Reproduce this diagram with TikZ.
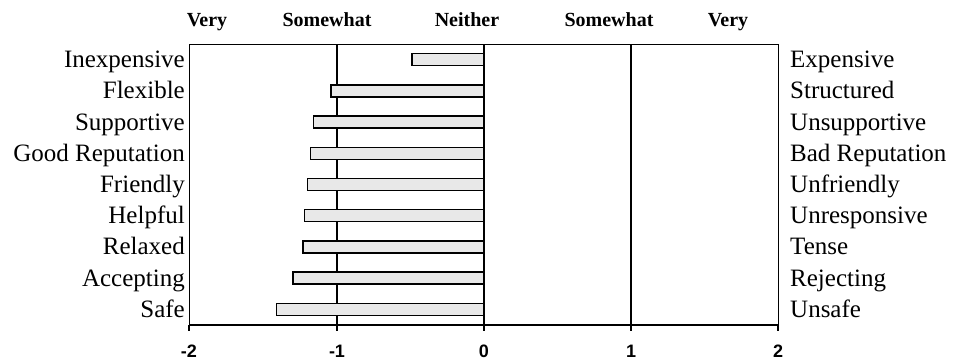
\documentclass[tikz,border=0pt]{standalone}
\usepackage{fontspec}
\setmainfont{Liberation Serif}
\setsansfont{Liberation Sans}
\begin{document}
\begin{tikzpicture}[x=1pt,y=-1pt,
  lbl/.style={font=\fontsize{25}{25}\selectfont, inner sep=0pt},
  leftlbl/.style={lbl, anchor=base east},
  rightlbl/.style={lbl, anchor=base west},
  hdr/.style={font=\fontsize{20}{20}\selectfont\bfseries, inner sep=0pt, anchor=base},
  ticklbl/.style={font=\sffamily\bfseries\fontsize{18}{18}\selectfont, inner sep=0pt, anchor=base},
  barbox/.style={draw=black, line width=1.4pt, fill=gray!18},
  gridln/.style={line width=1.4pt},
  frame/.style={line width=1pt}]
\useasboundingbox (0,0) rectangle (954,360);
% gridlines
\foreach \gx [count=\g] in {337,484,631}
  \draw[gridln] (\gx,44) coordinate (gt\g) -- (\gx,325) coordinate (gb\g);
% bars and labels
\foreach \lt/\rt/\val [count=\k] in {Inexpensive/Expensive/-0.49, Flexible/Structured/-1.04, Supportive/Unsupportive/-1.16, Good Reputation/Bad Reputation/-1.18, Friendly/Unfriendly/-1.20, Helpful/Unresponsive/-1.22, Relaxed/Tense/-1.23, Accepting/Rejecting/-1.30, Safe/Unsafe/-1.41} {
  \pgfmathsetmacro\yy{44+31.2*(\k-0.5)}
  \node[leftlbl] (l\k) at (185,\yy+8) {\lt};
  \node[rightlbl] (r\k) at (790,\yy+8) {\rt};
  \draw[barbox] (484+147*\val,\yy-6) rectangle (484,\yy+6);
}
% frame and axis
\draw[frame] (189,325) -- (189,44) -- (778,44) -- (778,325);
\draw[line width=1.8pt] (189,325) -- (778,325);
\foreach \tx/\tl [count=\t] in {189/-2,337/-1,484/0,631/1,778/2} {
  \draw[line width=1.4pt] (\tx,325) -- (\tx,331);
  \node[ticklbl] (t\t) at (\tx,357) {\tl};
}
% headers
\node[hdr] (h1) at (207,26) {Very};
\node[hdr] (h2) at (327,26) {Somewhat};
\node[hdr] (h3) at (467,26) {Neither};
\node[hdr] (h4) at (609,26) {Somewhat};
\node[hdr] (h5) at (728,26) {Very};
\end{tikzpicture}
\end{document}
